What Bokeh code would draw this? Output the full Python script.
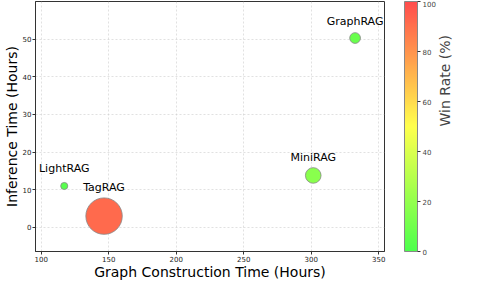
import math
from bokeh.plotting import figure
from bokeh.models import (ColumnDataSource, LinearColorMapper, ColorBar,
                          FixedTicker, LinearAxis, Range1d)
from bokeh.embed import file_html
from bokeh.resources import INLINE
from bokeh.core.properties import value

# ---- data ----
methods = ["GraphRAG", "MiniRAG", "LightRAG", "TagRAG"]
construction_hours = [332.5, 301.5, 117.0, 146.5]
inference_hours = [50.3, 13.8, 11.0, 3.0]
win_rate = [8.0, 17.0, 3.5, 92.0]

x_ticks = [100, 150, 200, 250, 300, 350]
y_ticks = [0, 10, 20, 30, 40, 50]
cbar_ticks = [0, 20, 40, 60, 80, 100]

# ---- colormap: green -> yellow -> red, softened ----
def blend(c, a=0.7):
    return tuple(int(round(a * v + (1 - a) * 255)) for v in c)

anchors = [blend((0, 255, 0)), blend((255, 255, 0)), blend((255, 0, 0))]
palette = []
n = 256
for i in range(n):
    t = i / (n - 1) * 2
    k = min(int(t), 1)
    f = t - k
    c0, c1 = anchors[k], anchors[k + 1]
    rgb = tuple(int(round(c0[j] + (c1[j] - c0[j]) * f)) for j in range(3))
    palette.append("#%02x%02x%02x" % rgb)

mapper = LinearColorMapper(palette=palette, low=0, high=100)

sizes = [3.8 * math.sqrt(w) for w in win_rate]
colors = [palette[min(n - 1, int(w / 100 * (n - 1)))] for w in win_rate]
label_off = [-max(17.0, 10 + s / 2) for s in sizes]

src = ColumnDataSource(dict(x=construction_hours, y=inference_hours, wr=win_rate,
                            size=sizes, color=colors, name=methods, off=label_off))

FONT = "DejaVu Sans"
p = figure(width=463, height=282,
           x_range=Range1d(95.7, 354.3), y_range=Range1d(-6.4, 60),
           output_backend="svg", toolbar_location=None,
           min_border_left=0, min_border_top=1, min_border_bottom=0, min_border_right=0)

p.outline_line_color = "#333333"
p.outline_line_width = 1
p.background_fill_color = "white"
p.border_fill_color = "white"

for ax in (p.xaxis[0], p.yaxis[0]):
    ax.axis_line_color = "#333333"
    ax.major_tick_line_color = "#333333"
    ax.major_tick_out = 3
    ax.major_tick_in = 0
    ax.minor_tick_out = 0
    ax.minor_tick_line_color = None
    ax.major_label_text_font = FONT
    ax.major_label_text_font_size = "7px"
    ax.major_label_text_color = "#222222"
    ax.major_label_standoff = 1
    ax.axis_label_text_font = FONT
    ax.axis_label_text_font_size = "14px"
    ax.axis_label_text_font_style = "normal"
    ax.axis_label_text_color = "black"
    ax.axis_label_text_line_height = 1.0
    ax.axis_label_standoff = 0

p.xaxis.axis_label_standoff = -1
p.xaxis.ticker = FixedTicker(ticks=x_ticks)
p.yaxis.ticker = FixedTicker(ticks=y_ticks)
p.xaxis.axis_label = "Graph Construction Time (Hours)"
p.yaxis.axis_label = "Inference Time (Hours)"

p.grid.grid_line_color = "#cccccc"
p.grid.grid_line_dash = "2 2"
p.grid.grid_line_width = 0.6

p.scatter("x", "y", size="size", fill_color="color", line_color="#888888",
          line_width=0.8, source=src)

p.text("x", "y", text="name", y_offset="off", text_align="center",
       text_baseline="middle", text_font=value(FONT), text_font_size="11px",
       text_color="black", source=src)

cb = ColorBar(color_mapper=mapper, ticker=FixedTicker(ticks=cbar_ticks), width=13,
              margin=0, padding=0, location=(20, 0),
              bar_line_color="#888888", border_line_color=None,
              background_fill_color=None,
              major_tick_in=0, major_tick_out=3, major_tick_line_color="#333333",
              major_label_text_font=FONT, major_label_text_font_size="7px",
              label_standoff=2)
p.add_layout(cb, "right")

cb_title = LinearAxis(ticker=FixedTicker(ticks=[]), axis_line_color=None,
                      major_tick_line_color=None, minor_tick_line_color=None,
                      major_tick_out=0, major_tick_in=0, minor_tick_out=0,
                      major_label_standoff=0, major_label_text_font_size="0px",
                      axis_label="Win Rate (%)", axis_label_text_font=FONT,
                      axis_label_text_font_size="14px", axis_label_text_font_style="normal",
                      axis_label_text_line_height=1.0,
                      axis_label_standoff=6, axis_label_orientation=math.pi / 2)
p.add_layout(cb_title, "right")

open("out.html", "w").write(file_html(p, INLINE))
